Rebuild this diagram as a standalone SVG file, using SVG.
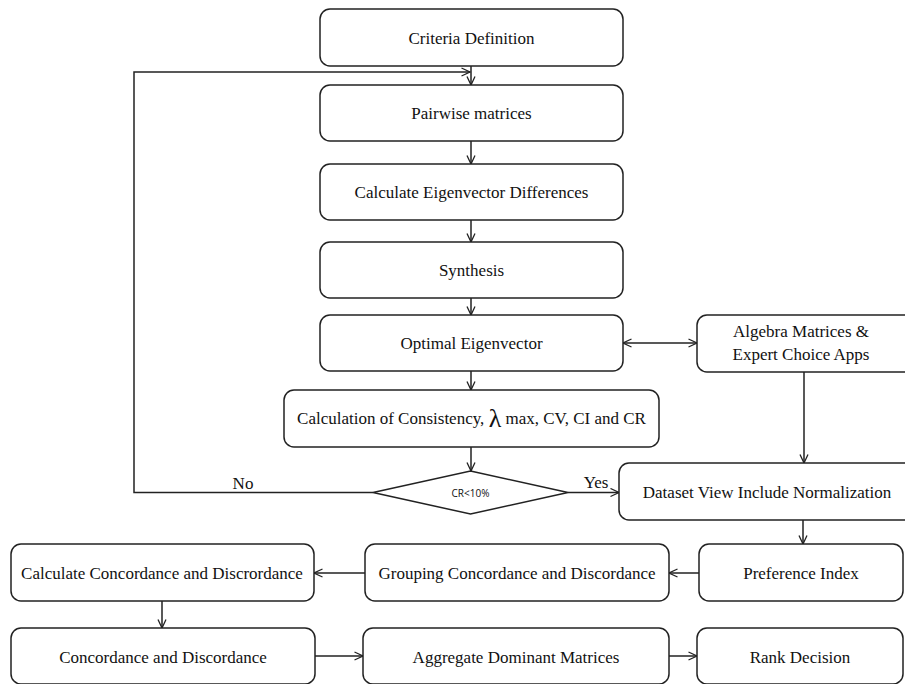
<svg xmlns="http://www.w3.org/2000/svg" width="905" height="684" viewBox="0 0 905 684">
<defs>
<style>
.box{fill:#fff;stroke:#222;stroke-width:1.5}
.t{font-family:"Liberation Serif","Times New Roman",serif;font-size:17px;fill:#111;text-anchor:middle;dominant-baseline:central}
.c{fill:none;stroke:#222;stroke-width:1.5}
.s{font-family:"Open Sans","Liberation Sans",sans-serif;font-size:10px;fill:#111;text-anchor:middle;dominant-baseline:central}
</style>
<marker id="ah" viewBox="0 0 10 10" refX="9.5" refY="5" markerWidth="10" markerHeight="10" markerUnits="userSpaceOnUse" orient="auto">
<path d="M1,1 L9.5,5 L1,9" fill="none" stroke="#222" stroke-width="1.3"/>
</marker>
<marker id="ahs" viewBox="0 0 10 10" refX="0.5" refY="5" markerWidth="10" markerHeight="10" markerUnits="userSpaceOnUse" orient="auto">
<path d="M9,1 L0.5,5 L9,9" fill="none" stroke="#222" stroke-width="1.3"/>
</marker>
</defs>
<rect width="905" height="684" fill="#fff"/>
<g id="connectors">
<line class="c" x1="471" y1="66" x2="471" y2="85" marker-end="url(#ah)"/>
<polyline class="c" points="373,492.5 134,492.5 134,72 470,72" marker-end="url(#ah)"/>
<line class="c" x1="471" y1="141" x2="471" y2="164" marker-end="url(#ah)"/>
<line class="c" x1="471" y1="220" x2="471" y2="242" marker-end="url(#ah)"/>
<line class="c" x1="471" y1="298" x2="471" y2="315" marker-end="url(#ah)"/>
<line class="c" x1="471" y1="371" x2="471" y2="390" marker-end="url(#ah)"/>
<line class="c" x1="471" y1="447" x2="471" y2="471" marker-end="url(#ah)"/>
<line class="c" x1="623" y1="343" x2="697" y2="343" marker-start="url(#ahs)" marker-end="url(#ah)"/>
<line class="c" x1="804" y1="372" x2="804" y2="463" marker-end="url(#ah)"/>
<line class="c" x1="568" y1="492.5" x2="619" y2="492.5" marker-end="url(#ah)"/>
<line class="c" x1="803" y1="520" x2="803" y2="544" marker-end="url(#ah)"/>
<line class="c" x1="699" y1="573" x2="669" y2="573" marker-end="url(#ah)"/>
<line class="c" x1="365" y1="573" x2="314" y2="573" marker-end="url(#ah)"/>
<line class="c" x1="162" y1="601" x2="162" y2="628" marker-end="url(#ah)"/>
<line class="c" x1="315" y1="656" x2="363" y2="656" marker-end="url(#ah)"/>
<line class="c" x1="669" y1="656" x2="697" y2="656" marker-end="url(#ah)"/>
<text class="t" x="243" y="483">No</text>
<text class="t" x="596" y="482">Yes</text>
</g>
<g id="criteria"><rect class="box" x="320" y="9" width="303" height="57" rx="10"/><text class="t" x="471.5" y="38">Criteria Definition</text></g>
<g id="pairwise"><rect class="box" x="320" y="85" width="303" height="56" rx="10"/><text class="t" x="471.5" y="113">Pairwise matrices</text></g>
<g id="eigen"><rect class="box" x="320" y="164" width="303" height="56" rx="10"/><text class="t" x="471.5" y="192">Calculate Eigenvector Differences</text></g>
<g id="synthesis"><rect class="box" x="320" y="242" width="303" height="56" rx="10"/><text class="t" x="471.5" y="270">Synthesis</text></g>
<g id="optimal"><rect class="box" x="320" y="315" width="303" height="56" rx="10"/><text class="t" x="471.5" y="343">Optimal Eigenvector</text></g>
<g id="consistency"><rect class="box" x="284" y="390" width="375" height="57" rx="10"/><text class="t" x="471.5" y="418">Calculation of Consistency, <tspan font-size="26">λ</tspan> max, CV, CI and CR</text></g>
<g id="decision"><polygon class="box" points="470.5,471 568,492.5 470.5,514 373,492.5"/><text class="s" x="470.5" y="493">CR&lt;10%</text></g>
<g id="algebra"><rect class="box" x="697" y="315" width="220" height="57" rx="10"/><text class="t" x="801" y="331">Algebra Matrices &amp;</text><text class="t" x="801" y="354">Expert Choice Apps</text></g>
<g id="dataset"><rect class="box" x="619" y="463" width="300" height="57" rx="10"/><text class="t" x="767" y="492">Dataset View Include Normalization</text></g>
<g id="preference"><rect class="box" x="699" y="544" width="204" height="57" rx="10"/><text class="t" x="801" y="573">Preference Index</text></g>
<g id="grouping"><rect class="box" x="365" y="544" width="304" height="57" rx="10"/><text class="t" x="517" y="573">Grouping Concordance and Discordance</text></g>
<g id="calcconc"><rect class="box" x="11" y="544" width="303" height="57" rx="10"/><text class="t" x="162" y="573">Calculate Concordance and Discrordance</text></g>
<g id="concdisc"><rect class="box" x="11" y="628" width="304" height="56" rx="10"/><text class="t" x="163" y="657">Concordance and Discordance</text></g>
<g id="aggregate"><rect class="box" x="363" y="628" width="306" height="56" rx="10"/><text class="t" x="516" y="657">Aggregate Dominant Matrices</text></g>
<g id="rank"><rect class="box" x="697" y="628" width="206" height="56" rx="10"/><text class="t" x="800" y="657">Rank Decision</text></g>
</svg>
